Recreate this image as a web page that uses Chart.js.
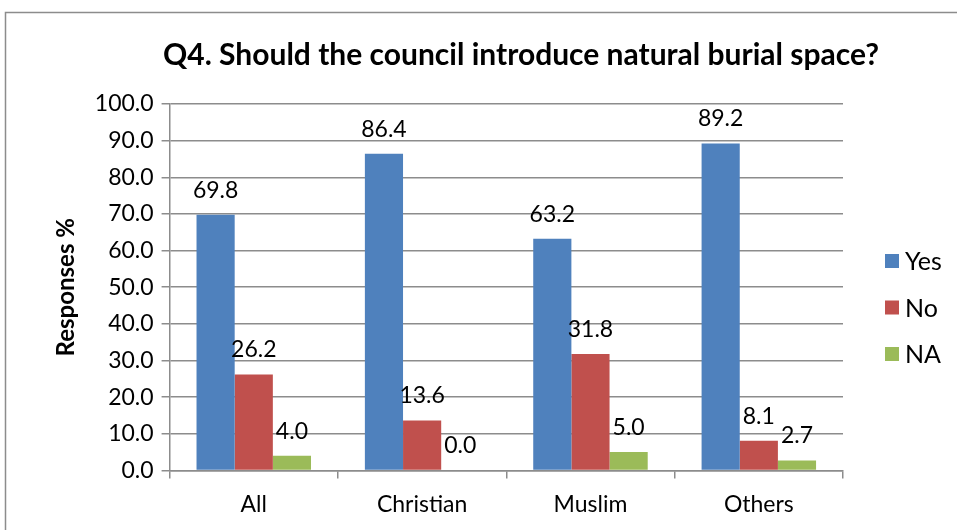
<!DOCTYPE html>
<html>
<head>
<meta charset="utf-8">
<script src="https://cdn.jsdelivr.net/npm/chart.js@4"></script>
<style>
  body { margin: 0; background: #fff; }
  #wrap { width: 957px; height: 530px; position: relative; }
</style>
</head>
<body>
<div id="wrap"><canvas id="c" width="957" height="530"></canvas></div>
<script>
const categories = ["All", "Christian", "Muslim", "Others"];
const yesValues = [69.8, 86.4, 63.2, 89.2];
const noValues = [26.2, 13.6, 31.8, 8.1];
const naValues = [4.0, 0.0, 5.0, 2.7];
const titleText = "Q4. Should the council introduce natural burial space?";

const FONT = "Lato, 'Open Sans', sans-serif";

const frameAndTitle = {
  id: "frameAndTitle",
  beforeDraw(chart) {
    const ctx = chart.ctx;
    ctx.save();
    ctx.strokeStyle = "#8c8c8c";
    ctx.lineWidth = 1.5;
    ctx.strokeRect(5.5, 12.5, 1000, 1000);
    ctx.restore();
  },
  afterDraw(chart) {
    const ctx = chart.ctx;
    ctx.save();
    ctx.font = "bold 30px " + FONT;
    ctx.fillStyle = "#000";
    ctx.textAlign = "center";
    ctx.textBaseline = "middle";
    ctx.fillText(titleText, 521, 55);

    // legend on the right, one row per dataset
    ctx.font = "25px " + FONT;
    ctx.textAlign = "left";
    chart.data.datasets.forEach((ds, i) => {
      const cy = 261 + i * 46.5;
      ctx.fillStyle = ds.backgroundColor;
      ctx.fillRect(885, cy - 7, 14, 14);
      ctx.fillStyle = "#000";
      ctx.fillText(ds.label, 905, cy + 1);
    });
    ctx.restore();
  }
};

const valueLabels = {
  id: "valueLabels",
  afterDatasetsDraw(chart) {
    const ctx = chart.ctx;
    ctx.save();
    ctx.font = "23px " + FONT;
    ctx.fillStyle = "#000";
    ctx.textAlign = "center";
    ctx.textBaseline = "bottom";
    chart.data.datasets.forEach((ds, i) => {
      chart.getDatasetMeta(i).data.forEach((bar, j) => {
        ctx.fillText(ds.data[j].toFixed(1), bar.x, bar.y - 13);
      });
    });
    ctx.restore();
  }
};

new Chart(document.getElementById("c"), {
  type: "bar",
  data: {
    labels: categories,
    datasets: [
      { label: "Yes", data: yesValues, backgroundColor: "#4F81BD" },
      { label: "No", data: noValues, backgroundColor: "#C0504D" },
      { label: "NA", data: naValues, backgroundColor: "#9BBB59" },
    ],
  },
  options: {
    responsive: false,
    animation: false,
    devicePixelRatio: 1,
    layout: { padding: { top: 104, left: 46, right: 114, bottom: 0 } },
    datasets: {
      bar: { categoryPercentage: 0.68, barPercentage: 1.0 },
    },
    scales: {
      x: {
        grid: {
          offset: true,
          drawOnChartArea: false,
          color: "#8c8c8c",
          lineWidth: 1.5,
          tickLength: 8,
        },
        border: { color: "#8c8c8c", width: 1.5 },
        ticks: { color: "#000", font: { size: 23, family: FONT }, padding: 12 },
      },
      y: {
        min: 0,
        max: 100,
        grid: { color: "#8c8c8c", lineWidth: 1.5, tickLength: 8 },
        border: { color: "#8c8c8c", width: 1.5 },
        ticks: {
          stepSize: 10,
          color: "#000",
          font: { size: 23, family: FONT },
          padding: 8,
          callback: (v) => Number(v).toFixed(1),
        },
        title: {
          display: true,
          text: "Responses %",
          color: "#000",
          font: { size: 24, weight: "bold", family: FONT },
          padding: 6,
        },
      },
    },
    plugins: {
      legend: { display: false },
      title: { display: false },
      tooltip: { enabled: false },
    },
  },
  plugins: [frameAndTitle, valueLabels],
});
</script>
</body>
</html>
